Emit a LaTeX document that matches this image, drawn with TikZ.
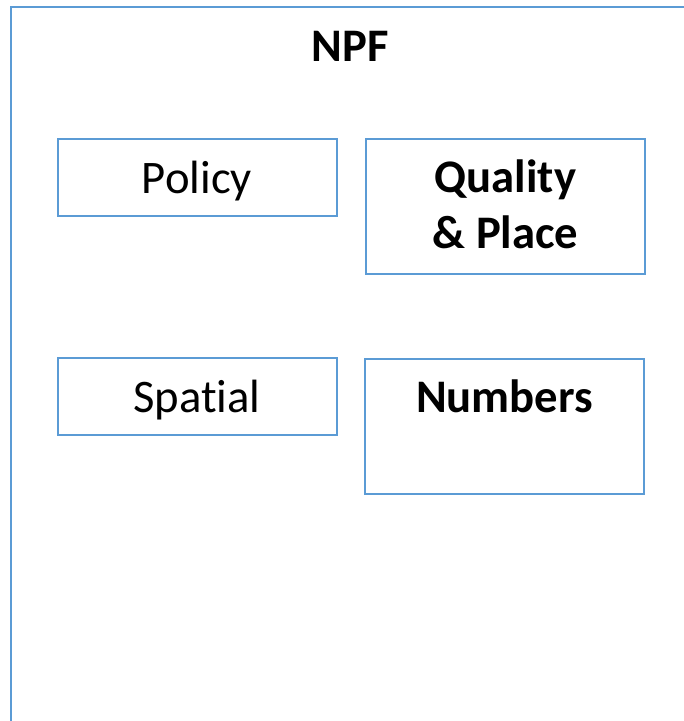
\documentclass[tikz,border=0pt]{standalone}
\usepackage{fontspec}
\setmainfont{Carlito}[Ligatures={CommonOff}]
\definecolor{boxblue}{HTML}{5B9BD5}
\begin{document}
\begin{tikzpicture}[x=0.75pt,y=-0.75pt,
  frame/.style={draw=boxblue,line width=1.5pt},
  lbl/.style={anchor=base,inner sep=0pt,font=\fontsize{35pt}{42pt}\selectfont},
  blbl/.style={lbl,font=\fontsize{35pt}{42pt}\selectfont\bfseries}]
\useasboundingbox (0,0) rectangle (683,721);
\draw[frame] (10.5,730) -- (10.5,6.5) -- (690,6.5);
\node[blbl] (npf) at (350,61) {NPF};
\draw[frame] (57.5,138.5) rectangle (337,215.5);
\node[lbl] (policy) at (197,193) {Policy};
\draw[frame] (366,138.5) rectangle (645,273.5);
\node[blbl] (q1) at (505.5,192) {Quality};
\node[blbl] (q2) at (505.5,248) {\& Place};
\draw[frame] (57.5,357.5) rectangle (337,435);
\node[lbl] (spatial) at (197,412) {Spatial};
\draw[frame] (365,358.5) rectangle (644,493.5);
\node[blbl] (numbers) at (504.5,412) {Numbers};
\end{tikzpicture}
\end{document}
